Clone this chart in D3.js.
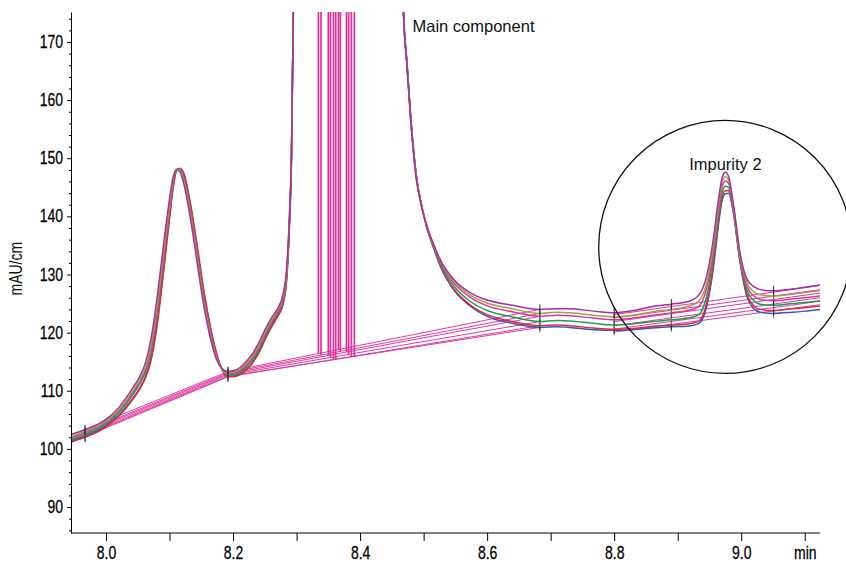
<!DOCTYPE html>
<html><head><meta charset="utf-8">
<script src="https://cdn.jsdelivr.net/npm/d3@7"></script>
<style>body{margin:0;background:#fff}svg{display:block}</style>
</head><body>
<svg id="chart" width="846" height="565"></svg>
<script>
// ---- data ----
const times = [7.945,7.967,7.99,8.006,8.02,8.033,8.044,8.054,8.062,8.07,
  8.08,8.09,8.10,8.106,8.111,8.116,8.122,8.132,8.143,8.153,
  8.164,8.174,8.183,8.192,8.20,8.211,8.222,8.232,8.243,8.253,
  8.262,8.27,8.279,8.2846,8.2887,8.292,8.295,8.30,8.46,8.468,
  8.474,8.481,8.489,8.497,8.505,8.515,8.526,8.547,8.573,8.60,
  8.64,8.683,8.71,8.73,8.767,8.80,8.83,8.861,8.89,8.915,
  8.932,8.945,8.956,8.964,8.97,8.975,8.98,8.988,8.998,9.009,
  9.02,9.03,9.051,9.08,9.10,9.124];

const purpleTrace = [102.5,103.3,104.4,105.6,107.1,109.0,110.8,112.6,114.8,118.4,
  125.6,134.6,143.0,146.9,148.0,147.7,145.8,140.2,132.4,125.2,
  119.2,115.4,113.8,113.3,113.4,114.0,115.2,116.6,118.8,121.1,
  122.8,124.1,126.8,131.4,140.0,151.4,176,260,260,176,
  165.6,154.6,146.0,141.6,138.4,135.4,132.6,129.2,126.9,125.6,
  124.7,124.0,124.1,124.1,123.7,123.4,123.8,124.5,124.9,125.3,
  126.3,129.5,136.0,142.8,146.7,147.6,146.9,141.9,133.8,129.2,
  127.9,127.4,127.2,127.5,127.8,128.2];
const oliveTrace = [102.1,103.0,104.1,105.3,106.7,108.5,110.3,112.0,114.0,117.3,
  124.2,133.2,142.0,146.5,148.1,148.0,146.4,141.0,133.3,126.0,
  119.8,115.7,113.8,113.1,113.2,113.7,114.8,116.2,118.3,120.7,
  122.4,123.8,126.3,130.8,139.5,151.0,176,260,260,176,
  165.8,154.9,146.3,141.7,138.4,135.3,132.4,128.9,126.5,125.1,
  124.1,123.3,123.5,123.4,123.0,122.7,123.0,123.6,124.0,124.5,
  125.3,128.3,134.8,141.8,145.9,146.8,146.3,141.5,133.4,128.6,
  127.0,126.5,126.3,126.6,126.9,127.2];
const magentaTrace = [101.9,102.8,103.9,105.1,106.5,108.2,110.0,111.7,113.6,116.8,
  123.5,132.5,141.5,146.2,148.1,148.1,146.7,141.4,133.8,126.5,
  120.1,115.9,113.7,112.9,113.0,113.5,114.5,115.9,118.0,120.4,
  122.1,123.5,126.0,130.5,139.2,150.8,176,260,260,176,
  165.9,155.0,146.4,141.7,138.3,135.2,132.2,128.6,126.1,124.6,
  123.6,122.8,123.0,122.9,122.5,122.2,122.5,123.0,123.4,123.8,
  124.4,127.4,134.0,141.0,145.1,146.1,145.7,141.1,133.0,128.0,
  126.3,125.7,125.5,125.8,126.0,126.3];
const greenTrace = [101.6,102.5,103.6,104.8,106.2,107.9,109.6,111.3,113.2,116.2,
  122.8,131.8,141.0,145.9,148.0,148.2,147.0,141.8,134.2,126.9,
  120.4,116.0,113.6,112.7,112.7,113.2,114.2,115.5,117.6,120.0,
  121.8,123.2,125.6,130.1,138.8,150.5,176,260,260,176,
  166.0,155.1,146.5,141.7,138.2,135.0,131.9,128.1,125.4,123.8,
  122.7,121.9,122.1,122.0,121.6,121.3,121.5,121.9,122.2,122.5,
  123.0,126.0,132.8,139.9,144.1,145.2,145.0,140.7,132.6,127.3,
  125.5,124.9,124.7,125.0,125.2,125.5];
const redTrace = [101.2,102.0,103.1,104.3,105.6,107.2,108.8,110.4,112.2,114.8,
  120.8,129.8,139.6,145.1,147.9,148.3,147.6,142.8,135.4,128.0,
  121.2,116.5,113.6,112.4,112.4,112.8,113.7,115.0,117.0,119.4,
  121.2,122.7,125.0,129.3,138.0,149.8,176,260,260,176,
  166.2,155.4,146.7,141.8,138.1,134.8,131.6,127.6,124.8,123.1,
  121.9,121.2,121.3,121.2,120.8,120.6,120.7,121.1,121.3,121.5,
  121.9,124.8,131.6,139.0,143.3,144.4,144.4,140.6,132.4,126.6,
  124.6,124.0,123.8,124.1,124.3,124.6];
const blueTrace = [101.4,102.2,103.3,104.5,105.8,107.4,109.0,110.6,112.4,115.2,
  121.4,130.4,140.0,145.3,147.9,148.2,147.4,142.5,135.0,127.6,
  121.0,116.3,113.6,112.5,112.5,112.9,113.8,115.1,117.2,119.6,
  121.4,122.9,125.2,129.6,138.3,150.0,176,260,260,176,
  166.1,155.3,146.6,141.8,138.1,134.8,131.5,127.4,124.6,122.8,
  121.6,120.9,121.0,120.9,120.5,120.4,120.5,120.8,121.0,121.1,
  121.5,124.2,131.0,138.4,142.8,143.9,144.0,140.4,132.2,126.2,
  124.1,123.5,123.3,123.5,123.7,124.0];

// drawing order: bottom first
const traceValues = [blueTrace, redTrace, greenTrace, magentaTrace, oliveTrace, purpleTrace];
const traceColors = ["#2a5db8", "#e8253e", "#17a24c", "#d8389a", "#a89c48", "#a3309e"];

// integration baselines per trace (same order): [start time, end time], start values, end values
const baseSegTimes = [[7.945, 8.192], [8.192, 8.683], [8.80, 9.124]];
const baseStart = [
  [101.3, 101.1, 101.5, 101.8, 102.0, 102.4],
  [112.5, 112.4, 112.7, 112.9, 113.1, 113.3],
  [120.1, 120.6, 121.2, 121.9, 122.5, 123.1]];
const baseEnd = [
  [112.5, 112.4, 112.7, 112.9, 113.1, 113.3],
  [120.9, 121.2, 121.9, 122.8, 123.3, 124.0],
  [124.8, 125.4, 126.0, 126.8, 127.4, 128.1]];

// drop lines under the main component (two per trace)
const dropTimes = [[8.3616, 8.391], [8.358, 8.3863], [8.3533, 8.382],
                   [8.350, 8.3785], [8.3385, 8.369], [8.3344, 8.3659]];

// integration event marks
const eventTimes = [7.967, 8.192, 8.683, 8.80, 8.89, 9.051];

const xMajorTicks = [8.0, 8.2, 8.4, 8.6, 8.8, 9.0];
const xAllTicks = [8.0, 8.1, 8.2, 8.3, 8.4, 8.5, 8.6, 8.7, 8.8, 8.9, 9.0, 9.1];
const yMajorTicks = [90, 100, 110, 120, 130, 140, 150, 160, 170];
const yMinorTicks = [86,88,92,94,96,98,102,104,106,108,112,114,116,118,122,124,126,128,
  132,134,136,138,142,144,146,148,152,154,156,158,162,164,166,168,172,174];

const annotations = [
  {text: "Main component", t: 8.4825, v: 171.8, anchor: "start"},
  {text: "Impurity 2", t: 8.975, v: 147.9, anchor: "middle"}];
const circleCenter = {t: 8.9748, v: 134.75};

// ---- drawing ----
const svg = d3.select("#chart");
const x = d3.scaleLinear().domain([7.9449, 9.124]).range([71, 820]);
const y = d3.scaleLinear().domain([85.53, 175.16]).range([533, 12]);
const numFont = '"Liberation Sans",Arial,sans-serif';
const txtFont = '"Liberation Sans",Arial,sans-serif';
const squeeze = 0.8;

svg.append("defs").append("clipPath").attr("id", "plot")
  .append("rect").attr("x", 71).attr("y", 12).attr("width", 749).attr("height", 521);
const g = svg.append("g").attr("clip-path", "url(#plot)");

// baselines
const pink = "#de3c9e";
baseSegTimes.forEach((ts, s) => {
  traceValues.forEach((_, i) => {
    g.append("line")
      .attr("x1", x(ts[0])).attr("y1", y(baseStart[s][i]))
      .attr("x2", x(ts[1])).attr("y2", y(baseEnd[s][i]))
      .attr("stroke", pink).attr("stroke-width", 1);
  });
});
// drop lines
dropTimes.forEach((pair, i) => {
  const s = 1;
  pair.forEach(t => {
    const f = (t - baseSegTimes[s][0]) / (baseSegTimes[s][1] - baseSegTimes[s][0]);
    const v = baseStart[s][i] + f * (baseEnd[s][i] - baseStart[s][i]);
    g.append("line")
      .attr("x1", x(t)).attr("x2", x(t))
      .attr("y1", y(v)).attr("y2", y(y.domain()[1]))
      .attr("stroke", "#d8319a").attr("stroke-width", 1.7);
  });
});

// traces
const line = d3.line().x(d => x(d[0])).y(d => y(d[1])).curve(d3.curveMonotoneX);
traceValues.forEach((vals, i) => {
  g.append("path")
    .datum(times.map((t, k) => [t, vals[k]]))
    .attr("d", line)
    .attr("fill", "none")
    .attr("stroke", traceColors[i])
    .attr("stroke-width", 1.5);
});

// event marks
traceValues.forEach((vals, i) => {
  eventTimes.forEach(t => {
    const k = times.indexOf(t);
    const v = vals[k];
    g.append("line")
      .attr("x1", x(t)).attr("x2", x(t))
      .attr("y1", y(v) - 5).attr("y2", y(v) + 5)
      .attr("stroke", i % 2 ? "#222" : "#777").attr("stroke-width", 1);
  });
});

// axes
const xAxis = d3.axisBottom(x).tickValues(xAllTicks).tickSize(8).tickSizeOuter(0).tickPadding(6)
  .tickFormat(d => Math.abs(d - 9.1) < 1e-6 ? "min" :
    (xMajorTicks.some(m => Math.abs(m - d) < 1e-6) ? d.toFixed(1) : ""));
const gx = svg.append("g").attr("transform", "translate(0,533)").call(xAxis);
gx.select(".domain").attr("d", "M71,0H820");
const yAxis = d3.axisLeft(y).tickValues(yMajorTicks).tickSize(4).tickSizeOuter(0).tickPadding(4);
const gy = svg.append("g").attr("transform", "translate(71,0)").call(yAxis);
const gyMinor = svg.append("g").attr("transform", "translate(71,0)")
  .call(d3.axisLeft(y).tickValues(yMinorTicks).tickSize(2).tickSizeOuter(0).tickFormat(""));
gyMinor.select(".domain").remove();
[gx, gy].forEach(a => {
  a.selectAll("text").attr("font-family", numFont).attr("font-size", 17.5).attr("fill", "#000")
    .attr("stroke", "#000").attr("stroke-width", 0.25);
  a.selectAll("line,path").attr("stroke", "#000");
});
gx.selectAll("text").attr("transform", `scale(${squeeze},1)`);
gy.selectAll("text").attr("x", -8 / squeeze).attr("transform", `scale(${squeeze},1)`);

svg.append("text")
  .attr("transform", `translate(22,${y(131)}) rotate(-90) scale(${squeeze},1)`)
  .attr("text-anchor", "middle")
  .attr("font-family", numFont).attr("font-size", 17.5).attr("fill", "#111")
  .text("mAU/cm");

// circle + labels
svg.append("circle")
  .attr("cx", x(circleCenter.t)).attr("cy", y(circleCenter.v)).attr("r", 126.5)
  .attr("fill", "none").attr("stroke", "#111").attr("stroke-width", 1.3);
annotations.forEach(a => {
  svg.append("text").attr("x", x(a.t)).attr("y", y(a.v))
    .attr("text-anchor", a.anchor)
    .attr("font-family", txtFont).attr("font-size", 16.5).attr("fill", "#111")
    .text(a.text);
});
</script>
</body></html>
